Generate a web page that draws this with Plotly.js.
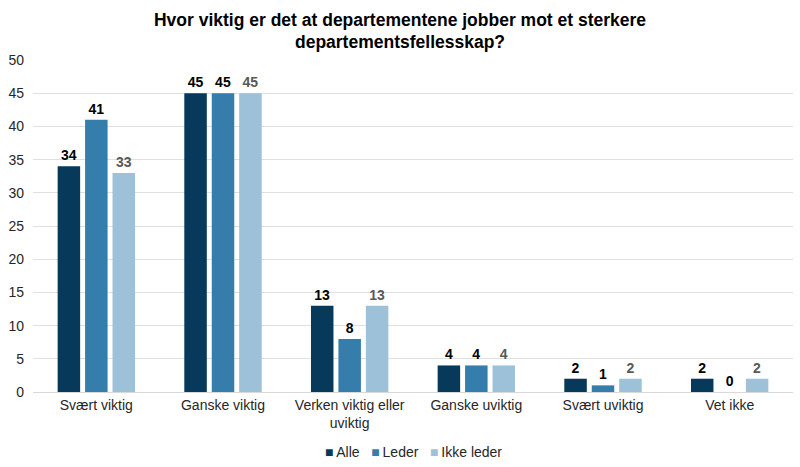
<!DOCTYPE html>
<html>
<head>
<meta charset="utf-8">
<script src="https://cdn.plot.ly/plotly-3.0.1.min.js"></script>
<style>html,body{margin:0;padding:0;background:#fff}#chart{width:800px;height:467px}</style>
</head>
<body>
<div id="chart"></div>
<script>
var categories = ["Svært viktig", "Ganske viktig", "Verken viktig eller<br>uviktig", "Ganske uviktig", "Svært uviktig", "Vet ikke"];
var alle = [34, 45, 13, 4, 2, 2];
var leder = [41, 45, 8, 4, 1, 0];
var ikkeLeder = [33, 45, 13, 4, 2, 2];
var seriesNames = ["Alle", "Leder", "Ikke leder"];
var colors = ["#073A5A", "#357DAB", "#9CC1D9"];
var labelColors = ["#000000", "#000000", "#595959"];
var yTicks = [0, 5, 10, 15, 20, 25, 30, 35, 40, 45, 50];

var data = [alle, leder, ikkeLeder].map(function (vals, i) {
  return {
    type: "bar",
    name: seriesNames[i],
    x: categories,
    y: vals,
    marker: {color: colors[i]},
    text: vals.map(String),
    textposition: "outside",
    textfont: {family: "Liberation Sans, Arial, sans-serif", size: 14, color: labelColors[i], weight: "bold"},
    cliponaxis: false,
    hoverinfo: "none",
    showlegend: false
  };
});

var legendText = seriesNames.map(function (n, i) {
  return '<span style="color:' + colors[i] + '">■</span>\u2009' + n;
}).join('   ');

var layout = {
  width: 800, height: 467,
  margin: {l: 33, r: 7, t: 60, b: 75, autoexpand: false},
  paper_bgcolor: "#ffffff", plot_bgcolor: "#ffffff",
  font: {family: "Liberation Sans, Arial, sans-serif", size: 14, color: "#404040"},
  title: {
    text: "<b>Hvor viktig er det at departementene jobber mot et sterkere<br>departementsfellesskap?</b>",
    x: 0.5, xanchor: "center", xref: "container", yref: "container", y: 0.945, yanchor: "middle",
    font: {family: "Liberation Sans, Arial, sans-serif", size: 17.5, color: "#000000"}
  },
  barmode: "group",
  bargap: 0.35,
  bargroupgap: 0.18,
  xaxis: {
    showgrid: false, showline: true, linecolor: "#d9d9d9", linewidth: 1,
    ticks: "", tickfont: {size: 14, color: "#262626"}, automargin: false
  },
  yaxis: {
    range: [0, 50], tickvals: yTicks, showgrid: true, gridcolor: "#e0e0e0",
    zeroline: false, showline: false, ticks: "", ticklen: 0, automargin: false,
    ticklabelstandoff: 8,
    tickfont: {size: 14, color: "#262626"}
  },
  annotations: [{
    text: legendText, showarrow: false,
    xref: "paper", yref: "paper", x: 0.5, xanchor: "center",
    y: -60 / 332, yanchor: "middle",
    font: {size: 14, color: "#262626"}
  }],
  showlegend: false
};

Plotly.newPlot("chart", data, layout, {displayModeBar: false, staticPlot: true});
</script>
</body>
</html>
